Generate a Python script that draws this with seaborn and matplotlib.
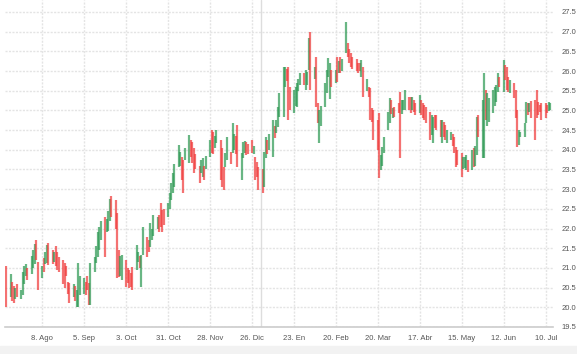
import pandas as pd
import numpy as np
import matplotlib
matplotlib.use("Agg")
import matplotlib.pyplot as plt
import seaborn as sns

# daily bars, one line per week (Mon..Fri)
dates = pd.bdate_range("2022-07-15", "2023-07-13")

lows = [
    20.00,                                  # Jul 15
    20.25, 20.15, 20.10, 20.20, 20.25,      # Jul 18
    20.20, 20.30, 20.60, 20.80, 20.70,      # Jul 25
    20.85, 21.00, 21.10, 21.20, 20.45,      # Aug 1
    20.75, 20.90, 21.10, 21.13, 21.07,      # Aug 8
    21.10, 21.15, 21.05, 20.95, 20.90,      # Aug 15
    20.60, 20.50, 20.80, 20.35, 20.10,      # Aug 22
    20.25, 20.15, 20.00, 20.00, 20.30,      # Aug 29
    20.35, 20.30, 20.45, 20.05, 20.05,      # Sep 5
    20.90, 21.13, 21.28, 21.46, 21.70,      # Sep 12
    21.28, 21.90, 21.95, 22.20, 22.30,      # Sep 19
    22.00, 20.75, 20.77, 20.80, 20.70,      # Sep 26
    20.52, 20.62, 20.50, 20.52, 20.44,      # Oct 3
    20.95, 21.15, 21.00, 20.52, 21.33,      # Oct 10
    21.28, 21.40, 21.53, 21.70, 21.80,      # Oct 17
    22.00, 21.90, 22.04, 21.90, 22.10,      # Oct 24
    22.30, 22.50, 22.72, 22.90, 23.05,      # Oct 31
    23.57, 23.60, 23.24, 22.90, 23.75,      # Nov 7
    23.67, 23.82, 23.67, 23.41, 23.50,      # Nov 14
    23.16, 23.41, 23.30, 23.24, 23.50,      # Nov 21
    23.82, 23.92, 23.90, 24.05, 24.18,      # Nov 28
    23.24, 23.06, 22.98, 23.57, 23.75,      # Dec 5
    23.65, 23.92, 24.00, 23.90, 23.56,      # Dec 12
    23.24, 23.80, 23.92, 23.88, 23.90,      # Dec 19
    23.92, 23.90, 23.24, 23.30, 22.98,      # Dec 26
    22.90, 23.06, 23.80, 23.90, 24.00,      # Jan 2
    23.82, 24.30, 24.43, 24.58, 24.83,      # Jan 9
    24.83, 25.60, 25.75, 24.76, 25.00,      # Jan 16
    24.94, 25.10, 25.09, 25.50, 25.65,      # Jan 23
    25.65, 25.52, 25.65, 26.03, 25.52,      # Jan 30
    25.80, 25.09, 24.68, 24.17, 24.60,      # Feb 6
    25.09, 25.44, 25.85, 25.30, 25.60,      # Feb 13
    25.70, 25.72, 25.95, 25.95, 26.00,      # Feb 20
    26.46, 26.36, 26.20, 26.10, 26.05,      # Feb 27
    26.00, 25.95, 26.00, 25.85, 25.34,      # Mar 6
    25.50, 25.34, 24.76, 24.70, 24.25,      # Mar 13
    24.00, 23.28, 23.49, 23.60, 23.92,      # Mar 20
    24.50, 24.68, 24.90, 24.80, 24.83,      # Mar 27
    24.94, 23.80, 24.90, 25.00, 25.00,      # Apr 3
    25.00, 24.94, 25.00, 24.96, 24.89,      # Apr 10
    24.94, 24.89, 24.81, 24.76, 24.68,      # Apr 17
    24.25, 24.38, 24.18, 24.56, 24.51,      # Apr 24
    24.33, 24.18, 24.33, 24.25, 24.18,      # May 1
    24.25, 24.10, 23.92, 23.57, 23.62,      # May 8
    23.31, 23.50, 23.54, 23.49, 23.44,      # May 15
    23.49, 23.57, 23.60, 23.87, 24.33,      # May 22
    23.80, 23.80, 24.76, 24.60, 24.71,      # May 29
    24.94, 25.10, 25.22, 25.47, 25.60,      # Jun 5
    25.47, 25.77, 25.52, 25.47, 25.44,      # Jun 12
    25.32, 24.81, 24.07, 24.12, 24.33,      # Jun 19
    24.33, 24.68, 24.89, 24.95, 24.80,      # Jun 26
    24.25, 24.81, 24.89, 24.96, 24.76,      # Jul 3
    24.81, 24.94, 24.99, 25.01,             # Jul 10
]

highs = [
    21.05,
    20.85, 20.65, 20.55, 20.50, 20.60,
    20.45, 20.90, 21.05, 21.10, 21.00,
    21.30, 21.45, 21.60, 21.70, 21.15,
    21.05, 21.25, 21.40, 21.58, 21.63,
    21.45, 21.40, 21.55, 21.40, 21.28,
    21.20, 21.13, 21.05, 20.65, 20.62,
    20.60, 20.55, 20.45, 21.13, 20.80,
    20.75, 20.65, 20.80, 20.62, 21.13,
    21.28, 21.55, 21.90, 22.05, 22.20,
    22.30, 22.25, 22.45, 22.75, 22.82,
    22.72, 22.40, 21.46, 21.30, 21.33,
    21.20, 21.00, 20.95, 20.87, 21.03,
    21.58, 21.40, 21.30, 21.33, 22.04,
    21.78, 21.70, 22.13, 22.00, 22.35,
    22.30, 22.35, 22.65, 22.47, 22.50,
    22.65, 22.90, 23.15, 23.40, 23.65,
    24.12, 23.95, 23.82, 23.75, 24.05,
    24.38, 24.25, 24.20, 24.05, 23.90,
    23.60, 23.74, 23.80, 23.60, 23.85,
    24.25, 24.50, 24.45, 24.35, 24.51,
    24.25, 24.05, 23.56, 23.92, 24.33,
    23.95, 24.68, 24.40, 24.35, 24.63,
    23.92, 24.20, 24.22, 24.20, 24.15,
    24.25, 24.10, 23.82, 23.70, 23.56,
    23.50, 23.95, 24.33, 24.25, 24.40,
    24.76, 24.60, 24.76, 25.09, 25.44,
    26.10, 26.10, 26.05, 26.10, 25.60,
    25.52, 25.60, 25.70, 25.80, 25.95,
    25.95, 26.03, 25.98, 26.84, 27.00,
    26.10, 26.36, 25.20, 25.00, 25.10,
    25.70, 26.03, 26.33, 26.20, 26.03,
    26.03, 26.36, 26.25, 26.36, 26.30,
    27.25, 26.71, 26.55, 26.46, 26.36,
    26.30, 26.20, 26.20, 26.28, 26.10,
    25.80, 25.60, 25.57, 25.05, 25.00,
    24.76, 24.94, 23.87, 24.07, 24.33,
    24.96, 25.32, 25.27, 25.06, 25.09,
    25.19, 25.47, 25.27, 25.27, 25.52,
    25.34, 25.34, 25.34, 25.27, 25.19,
    25.39, 25.27, 25.19, 25.14, 25.09,
    24.96, 24.89, 24.83, 24.89, 24.89,
    24.76, 24.76, 24.71, 24.63, 24.51,
    24.45, 24.40, 24.33, 24.07, 24.00,
    23.92, 23.82, 23.82, 23.87, 23.74,
    24.00, 24.05, 24.10, 24.83, 24.89,
    25.27, 25.95, 25.52, 25.44, 25.32,
    25.52, 25.60, 25.65, 25.95, 25.85,
    26.28, 26.15, 26.10, 25.85, 25.77,
    25.70, 25.52, 25.01, 24.51, 24.45,
    24.68, 25.22, 25.19, 25.20, 25.25,
    25.27, 25.52, 25.22, 25.14, 25.19,
    25.19, 25.15, 25.22, 25.20,
]

moves = ("r"
         "grrgr" "ggggr" "gggrr" "grggr" "rgrrr" "rrrrr" "grggg" "grrrg"
         "ggggg" "rgggr" "rrrgg" "rrrrr" "ggrgg" "rrggg" "grrrr" "ggggg"
         "ggrrg" "grrrr" "rggrg" "grrgg" "rrrgg" "rggrr" "gggrr" "rgrrr"
         "rggrg" "grggg" "ggrrr" "ggggg" "rgggr" "grrgg" "ggggr" "grgrg"
         "grrrr" "rrrgr" "grrrr" "rrggg" "ggrgr" "rrggg" "rrgrr" "grrrr"
         "rggrr" "rgrrg" "grrrr" "rgggr" "grggr" "ggrgg" "ggggr" "grrrg"
         "rrrgg" "ggrgr" "rrrrr" "rrgg")

month_ticks = pd.date_range("2022-08-08", periods=13, freq="28D")
tick_labels = ["8. Ago", "5. Sep", "3. Oct", "31. Oct", "28. Nov", "26. Dic",
               "23. En", "20. Feb", "20. Mar", "17. Abr", "15. May", "12. Jun",
               "10. Jul"]

df = pd.DataFrame({"date": dates, "low": lows, "high": highs, "move": list(moves)})

sns.set_style("white")
plt.rcParams["font.family"] = ["Liberation Sans Narrow", "Liberation Sans", "DejaVu Sans"]

fig = plt.figure(figsize=(5.77, 3.54), dpi=100)
ax = fig.add_axes([0.0087, 0.0763, 0.9497, 0.9237])

palette = {"g": "#2f9a55", "r": "#f03c3c"}
ax.vlines(df["date"], df["low"], df["high"], colors=df["move"].map(palette),
          linewidth=1.6, alpha=0.72)

ax.set_ylim(19.5, 27.5 + 12 / 39.4)
ax.set_xlim(pd.Timestamp("2022-07-14 06:00"), pd.Timestamp("2023-07-14 18:00"))

yticks = np.arange(19.5, 27.51, 0.5)
ax.set_yticks(yticks)
ax.set_yticklabels([f"{v:.1f}" for v in yticks])
ax.yaxis.tick_right()
ax.tick_params(axis="y", length=0, pad=6, labelsize=5.5, labelcolor="#555555")

ax.set_xticks(month_ticks)
ax.set_xticklabels(tick_labels)
ax.tick_params(axis="x", length=3, width=0.8, color="#d6d6d6", pad=3,
               labelsize=5.5, labelcolor="#555555")

ax.grid(True, color="#e4e4e4", linewidth=1.0, linestyle=(0, (1.5, 1)))
ax.set_axisbelow(True)
ax.axvline(pd.Timestamp("2023-01-01"), color="#dddddd", linewidth=1.0, zorder=0)

for side in ["top", "left", "right"]:
    ax.spines[side].set_visible(False)
ax.spines["bottom"].set_color("#cccccc")
ax.spines["bottom"].set_linewidth(1.2)
ax.set_xlabel("")
ax.set_ylabel("")

fig.patches.append(plt.Rectangle((0, 0), 1, 0.022, transform=fig.transFigure,
                                 color="#f2f2f2", zorder=-1))

fig.savefig("out.png", dpi=100)
